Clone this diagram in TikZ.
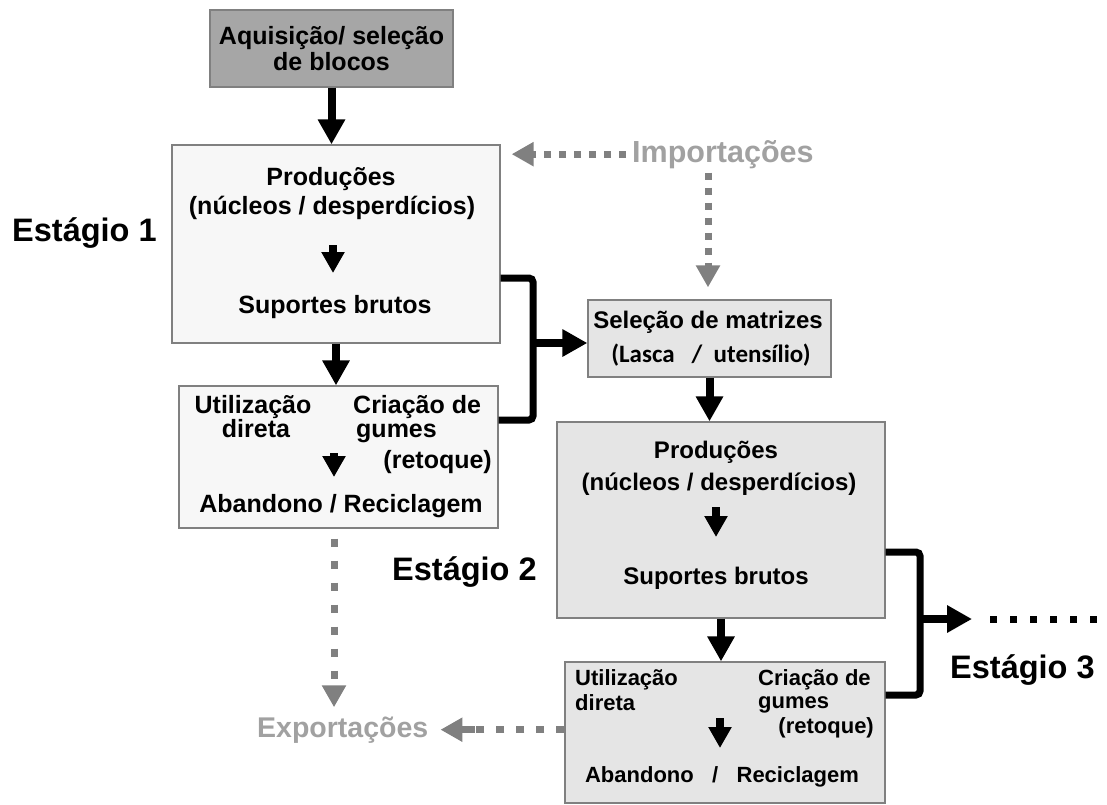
\documentclass[tikz,border=0pt]{standalone}
\usepackage{fontspec}
\setmainfont{Liberation Sans}
\newfontfamily\calfont{Carlito}
\usepackage{tikz}
\usetikzlibrary{arrows.meta}

\begin{document}
\begin{tikzpicture}[x=1pt, y=-1pt,
    box/.style={draw=black!50, line width=1.3pt, inner sep=0pt},
    txt/.style={inner sep=0pt, font=\fontsize{24}{26}\selectfont\bfseries},
    txtlg/.style={inner sep=0pt, font=\fontsize{25}{27}\selectfont\bfseries},
    txtsm/.style={inner sep=0pt, font=\fontsize{22}{24}\selectfont\bfseries},
    stage/.style={inner sep=0pt, font=\fontsize{32.5}{36}\selectfont\bfseries},
    ghost/.style={inner sep=0pt, text=black!37, font=\fontsize{30.5}{33}\selectfont\bfseries},
    arr/.style={line width=8pt, -{Triangle[width=26pt,length=25pt]}},
    sarr/.style={line width=8pt, -{Triangle[width=22pt,length=21pt]}},
    bar/.style={line width=7pt, rounded corners=4pt},
    gdots/.style={draw=black!50, line width=7pt, dash pattern=on 7pt off 8pt,
        -{Triangle[width=23pt,length=22pt]}}]
    \useasboundingbox (0,0) rectangle (1107,804);

    % boxes
    \node[box, fill=black!35, minimum width=243pt, minimum height=77pt, align=center,
        font=\fontsize{25}{26}\selectfont\bfseries] (A) at (331.5,48.5) {Aquisição/ seleção\\de blocos};
    \node[box, fill=black!3, minimum width=328pt, minimum height=198pt] (b1) at (336,244) {};
    \node[box, fill=black!3, minimum width=319pt, minimum height=142pt] (b2) at (338.5,457) {};
    \node[box, fill=black!10, minimum width=243pt, minimum height=77pt] (b3) at (709.5,338.5) {};
    \node[box, fill=black!10, minimum width=328pt, minimum height=196pt] (b4) at (721,520) {};
    \node[box, fill=black!10, minimum width=320pt, minimum height=141pt] (b5) at (725,732.5) {};

    % stage 1
    \node[txtlg, anchor=base] (p1) at (331,185) {Produções};
    \node[txtlg, anchor=base] (n1) at (332,214) {(núcleos / desperdícios)};
    \node[txtlg, anchor=base] (s1) at (335,313) {Suportes brutos};
    \draw[sarr] (333,245) -- (333,273);
    \node[txtlg, anchor=base] (u2) at (253,413) {Utilização};
    \node[txtlg, anchor=base] (d2) at (256,437) {direta};
    \node[txtlg, anchor=base west] (c2) at (353,413) {Criação de};
    \node[txtlg, anchor=base west] (g2) at (356,437) {gumes};
    \node[txtlg, anchor=base east] (r2) at (492,468) {(retoque)};
    \draw[sarr] (334,453) -- (334,477);
    \node[txtlg, anchor=base] (ab2) at (341,512) {Abandono / Reciclagem};
    \node[stage, anchor=base west] (e1) at (12,241) {Estágio 1};

    % matrices
    \node[txt, anchor=base] (m3) at (708,328) {Seleção de matrizes};
    \node[inner sep=0pt, anchor=base, font=\fontsize{25}{28}\selectfont\calfont\bfseries] (l3) at (711,362)
        {(Lasca\ \ \ /\ \ utensílio)};

    % stage 2
    \node[txt, anchor=base] (p4) at (716,458) {Produções};
    \node[txt, anchor=base] (n4) at (719,490) {(núcleos / desperdícios)};
    \node[txt, anchor=base] (s4) at (716,584) {Suportes brutos};
    \draw[sarr] (716,507) -- (716,537);
    \node[txtsm, anchor=base west] (u5) at (575,685) {Utilização};
    \node[txtsm, anchor=base west] (d5) at (575,710) {direta};
    \node[txtsm, anchor=base west] (c5) at (758,685) {Criação de};
    \node[txtsm, anchor=base west] (g5) at (758,708) {gumes};
    \node[txtsm, anchor=base east] (r5) at (874,733) {(retoque)};
    \draw[sarr] (720,718) -- (720,748);
    \node[txtsm, anchor=base] (ab5) at (722,782) {Abandono\ \ \ /\ \ \ Reciclagem};
    \node[stage, anchor=base west] (e2) at (392,580) {Estágio 2};
    \node[stage, anchor=base west] (e3) at (950,678) {Estágio 3};

    % imports / exports
    \node[ghost, anchor=base west] (imp) at (632,162) {Importações};
    \node[ghost, anchor=base west, font=\fontsize{28.5}{31}\selectfont\bfseries] (exp) at (257,737) {Exportações};

    % main flow
    \draw[arr] (A.south) -- (A.south |- b1.north);
    \draw[arr] (b1.south) -- (b1.south |- b2.north);
    \draw[arr] (b3.south) -- (b3.south |- b4.north);
    \draw[arr] (b4.south) -- (b4.south |- b5.north);

    \coordinate (j1) at (533,343);
    \draw[bar] (b1.east |- 0,278) -| (533,420) -- (b2.east |- 0,420);
    \draw[arr] (j1) -- (b3.west |- j1);

    \coordinate (j2) at (920,619);
    \coordinate (k2) at (972,619);
    \coordinate (k3) at (990,619);
    \coordinate (k4) at (1100,619);
    \draw[bar] (b4.east |- 0,552) -| (920,695) -- (b5.east |- 0,695);
    \draw[arr] (j2) -- (k2);
    \draw[line width=7pt, dash pattern=on 7pt off 13pt] (k3) -- (k4);

    \draw[gdots, shorten <=6pt, shorten >=11pt] (imp.west) -- (b1.east |- imp.west);
    \draw[gdots, shorten <=4pt, shorten >=12pt] (imp.south -| 708,0) -- (b3.north -| 708,0);
    \draw[gdots, dash pattern=on 8pt off 14pt, shorten <=10pt, shorten >=9pt] (b2.south -| 334,0) -- (exp.north -| 334,0);
    \draw[gdots, dash pattern=on 8pt off 12pt, shorten >=12pt] (b5.west |- exp) -- (exp.east);
    \draw[draw=black!50, line width=7pt] ([xshift=32pt]exp.east) -- ([xshift=47pt]exp.east);
\end{tikzpicture}
\end{document}
